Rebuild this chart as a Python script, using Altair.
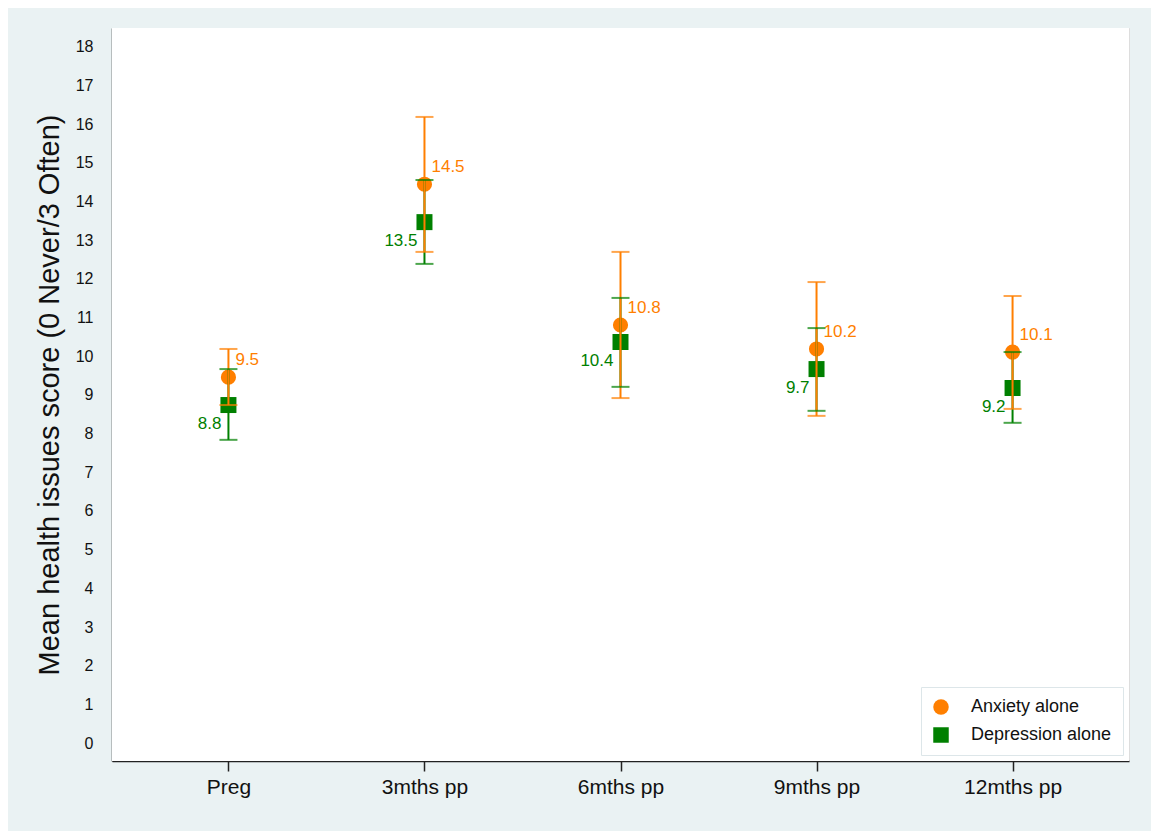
import altair as alt
import pandas as pd

categories = ["Preg", "3mths pp", "6mths pp", "9mths pp", "12mths pp"]
series = ["Anxiety alone", "Depression alone"]

anx_mean = [9.46, 14.45, 10.81, 10.19, 10.11]
anx_lo = [8.74, 12.70, 8.92, 8.46, 8.64]
anx_hi = [10.19, 16.19, 12.70, 11.92, 11.56]
anx_lab = ["9.5", "14.5", "10.8", "10.2", "10.1"]

dep_mean = [8.74, 13.47, 10.37, 9.67, 9.18]
dep_lo = [7.84, 12.39, 9.21, 8.59, 8.28]
dep_hi = [9.67, 14.56, 11.51, 10.73, 10.11]
dep_lab = ["8.8", "13.5", "10.4", "9.7", "9.2"]

colors = ["#FF7F00", "#008000"]
shapes = ["circle", "square"]

rows = []
for s, m, lo, hi, lab, sz in [
    (series[1], dep_mean, dep_lo, dep_hi, dep_lab, 256),
    (series[0], anx_mean, anx_lo, anx_hi, anx_lab, 230),
]:
    for i, c in enumerate(categories):
        rows.append({"cat": c, "series": s, "mean": m[i], "lo": lo[i],
                     "hi": hi[i], "lab": lab[i], "sz": sz})
df = pd.DataFrame(rows)

x = alt.X("cat:N", sort=categories,
          scale=alt.Scale(type="point", padding=0.594),
          axis=alt.Axis(title=None, labelAngle=0, labelFontSize=21,
                        labelColor="#111", tickSize=10, tickColor="#222",
                        tickWidth=1.5, labelPadding=5,
                        domainColor="#222", domainWidth=1.5, grid=False))
yscale = alt.Scale(domain=[-0.465, 18.49], nice=False, zero=False)
y = alt.Y("mean:Q", scale=yscale,
          axis=alt.Axis(title="Mean health issues score (0 Never/3 Often)",
                        values=list(range(0, 19)), tickSize=0, labelPadding=19,
                        labelFontSize=16, labelColor="#111",
                        titleFontSize=29, titleFontWeight="normal",
                        titleColor="#111", titlePadding=11,
                        domainColor="#222", domainWidth=1.5, grid=False))
color = alt.Color("series:N", scale=alt.Scale(domain=series, range=colors),
                  legend=alt.Legend(title=None, orient="bottom-right", offset=6,
                                    labelFontSize=18, labelColor="#111",
                                    symbolSize=240, symbolStrokeWidth=0,
                                    fillColor="white", strokeColor="#DDE6E9",
                                    padding=11, rowPadding=10, labelOffset=21,
                                    symbolOpacity=1))
shape = alt.Shape("series:N", scale=alt.Scale(domain=series, range=shapes))

base = alt.Chart(df)

# white plot region
plot_bg = alt.Chart(pd.DataFrame({"a": [0]})).mark_rect(color="white").encode(
    x=alt.value(0), x2=alt.value(1017), y=alt.value(0), y2=alt.value(733)
)

points = base.mark_point(filled=True, opacity=1).encode(
    x=x, y=y, color=color, shape=shape,
    size=alt.Size("sz:Q", scale=None, legend=None),
    order=alt.Order("sz:Q", sort="descending"),
)

cscale = alt.Scale(domain=series, range=colors)
rules = base.mark_rule(strokeWidth=2).encode(
    x=x, y=alt.Y("lo:Q", scale=yscale), y2="hi:Q",
    color=alt.Color("series:N", scale=cscale, legend=None),
)
cap_lo = base.mark_tick(size=18, thickness=2).encode(
    x=x, y=alt.Y("lo:Q", scale=yscale),
    color=alt.Color("series:N", scale=cscale, legend=None),
)
cap_hi = base.mark_tick(size=18, thickness=2).encode(
    x=x, y=alt.Y("hi:Q", scale=yscale),
    color=alt.Color("series:N", scale=cscale, legend=None),
)

anx_text = base.transform_filter(alt.datum.series == series[0]).mark_text(
    align="left", baseline="middle", dx=7, dy=-17, fontSize=17, color=colors[0]
).encode(x=x, y=y, text="lab:N")
dep_text = base.transform_filter(alt.datum.series == series[1]).mark_text(
    align="right", baseline="middle", dx=-7, dy=19, fontSize=17, color=colors[1]
).encode(x=x, y=y, text="lab:N")

chart = alt.layer(plot_bg, points, rules, cap_lo, cap_hi, anx_text, dep_text).properties(
    width=1017, height=733,
    background="#EAF2F3",
    padding={"left": 104, "top": 20, "right": 22, "bottom": 70},
    autosize=alt.AutoSizeParams(type="none"),
).configure_view(stroke="transparent").configure(
    font="Liberation Sans"
)

chart.save("out.html", embed_options={"renderer": "svg", "actions": False})
